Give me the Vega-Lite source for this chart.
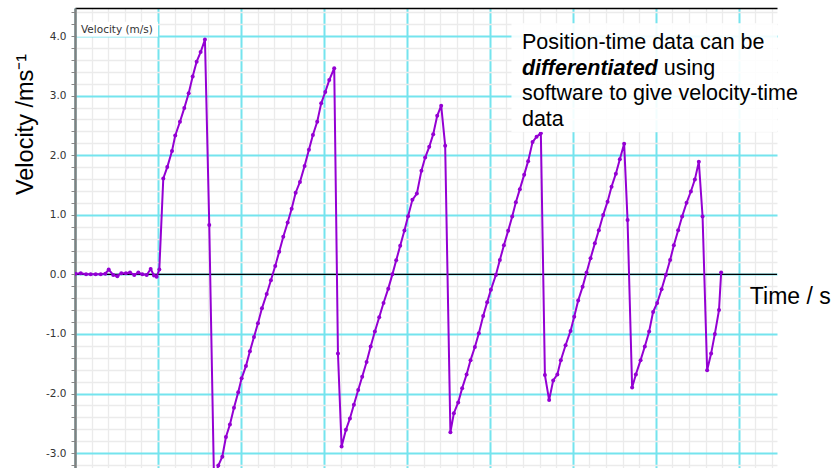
{
  "$schema": "https://vega.github.io/schema/vega-lite/v6.json",
  "width": 702,
  "height": 460,
  "autosize": {"type": "none"},
  "padding": {"left": 75, "top": 8, "right": 62, "bottom": 0},
  "background": "white",
  "config": {"view": {"stroke": null}, "font": "Liberation Sans"},
  "layer": [
    {
      "data": {"values": [{"a": 1}]},
      "mark": {"type": "rect", "fill": "white", "opacity": 1},
      "encoding": {
        "x": {"datum": 0.024, "type": "quantitative"},
        "x2": {"datum": 1.0},
        "y": {"datum": 4.238, "type": "quantitative"},
        "y2": {"datum": 3.987}
      }
    },
    {
      "data": {"values": [{"a": 1}]},
      "mark": {"type": "rule", "color": "black", "strokeWidth": 1.3},
      "encoding": {"x": {"datum": 0, "type": "quantitative"}, "x2": {"datum": 8.46}, "y": {"datum": 0, "type": "quantitative"}}
    },
    {
      "data": {"values": [
        {"t":0.004,"v":0.01},{"t":0.069,"v":0.02},{"t":0.133,"v":0.0},{"t":0.189,"v":0.0},{"t":0.249,"v":0.0},{"t":0.310,"v":0.0},{"t":0.365,"v":0.01},{"t":0.406,"v":0.08},{"t":0.461,"v":-0.01},{"t":0.510,"v":-0.03},{"t":0.558,"v":0.02},{"t":0.614,"v":0.02},{"t":0.663,"v":0.03},{"t":0.714,"v":-0.01},{"t":0.763,"v":0.03},{"t":0.811,"v":0.0},{"t":0.864,"v":-0.01},{"t":0.912,"v":0.09},{"t":0.952,"v":-0.02},{"t":0.984,"v":-0.04},{"t":1.016,"v":0.08},
        {"t":1.064,"v":1.61},{"t":1.112,"v":1.80},{"t":1.169,"v":2.07},{"t":1.208,"v":2.33},{"t":1.265,"v":2.56},{"t":1.317,"v":2.79},{"t":1.370,"v":3.04},{"t":1.418,"v":3.32},{"t":1.466,"v":3.57},{"t":1.514,"v":3.73},{"t":1.566,"v":3.94},
        {"t":1.618,"v":0.83},{"t":1.675,"v":-3.45},
        {"t":1.727,"v":-3.21},{"t":1.775,"v":-3.06},{"t":1.819,"v":-2.73},{"t":1.867,"v":-2.52},{"t":1.916,"v":-2.24},{"t":1.967,"v":-1.98},{"t":2.008,"v":-1.745},{"t":2.060,"v":-1.54},{"t":2.108,"v":-1.29},{"t":2.157,"v":-1.05},{"t":2.205,"v":-0.82},{"t":2.253,"v":-0.57},{"t":2.310,"v":-0.33},{"t":2.361,"v":-0.10},{"t":2.413,"v":0.14},{"t":2.461,"v":0.38},{"t":2.510,"v":0.63},{"t":2.563,"v":0.87},{"t":2.611,"v":1.10},{"t":2.659,"v":1.37},{"t":2.711,"v":1.55},{"t":2.767,"v":1.82},{"t":2.819,"v":2.09},{"t":2.867,"v":2.34},{"t":2.919,"v":2.56},{"t":2.967,"v":2.87},{"t":3.016,"v":3.06},{"t":3.064,"v":3.26},{"t":3.124,"v":3.46},
        {"t":3.169,"v":-1.33},{"t":3.213,"v":-2.89},
        {"t":3.265,"v":-2.61},{"t":3.313,"v":-2.42},{"t":3.361,"v":-2.19},{"t":3.413,"v":-1.94},{"t":3.461,"v":-1.72},{"t":3.514,"v":-1.47},{"t":3.563,"v":-1.21},{"t":3.614,"v":-0.96},{"t":3.666,"v":-0.72},{"t":3.718,"v":-0.48},{"t":3.775,"v":-0.24},{"t":3.825,"v":0.0},{"t":3.871,"v":0.235},{"t":3.919,"v":0.48},{"t":3.970,"v":0.735},{"t":4.014,"v":0.975},{"t":4.066,"v":1.25},{"t":4.120,"v":1.355},{"t":4.175,"v":1.74},{"t":4.220,"v":1.96},{"t":4.269,"v":2.14},{"t":4.317,"v":2.35},{"t":4.365,"v":2.66},{"t":4.413,"v":2.83},{"t":4.461,"v":2.16},
        {"t":4.524,"v":-2.65},
        {"t":4.566,"v":-2.33},{"t":4.618,"v":-2.15},{"t":4.666,"v":-1.91},{"t":4.719,"v":-1.68},{"t":4.767,"v":-1.44},{"t":4.819,"v":-1.22},{"t":4.867,"v":-0.99},{"t":4.919,"v":-0.70},{"t":4.967,"v":-0.47},{"t":5.012,"v":-0.26},{"t":5.072,"v":-0.01},{"t":5.120,"v":0.24},{"t":5.169,"v":0.49},{"t":5.220,"v":0.73},{"t":5.269,"v":0.97},{"t":5.313,"v":1.21},{"t":5.361,"v":1.43},{"t":5.413,"v":1.67},{"t":5.461,"v":1.90},{"t":5.514,"v":2.22},{"t":5.563,"v":2.31},{"t":5.614,"v":2.37},
        {"t":5.663,"v":-1.69},{"t":5.714,"v":-2.11},
        {"t":5.763,"v":-1.78},{"t":5.813,"v":-1.68},{"t":5.855,"v":-1.44},{"t":5.912,"v":-1.19},{"t":5.972,"v":-0.95},{"t":6.016,"v":-0.71},{"t":6.064,"v":-0.44},{"t":6.117,"v":-0.21},{"t":6.165,"v":0.03},{"t":6.213,"v":0.27},{"t":6.265,"v":0.52},{"t":6.313,"v":0.74},{"t":6.365,"v":0.995},{"t":6.418,"v":1.22},{"t":6.466,"v":1.47},{"t":6.518,"v":1.69},{"t":6.566,"v":1.93},{"t":6.618,"v":2.19},
        {"t":6.659,"v":0.91},{"t":6.714,"v":-1.90},
        {"t":6.759,"v":-1.68},{"t":6.816,"v":-1.44},{"t":6.867,"v":-1.21},{"t":6.919,"v":-0.96},{"t":6.967,"v":-0.63},{"t":7.016,"v":-0.48},{"t":7.069,"v":-0.25},{"t":7.120,"v":-0.01},{"t":7.172,"v":0.24},{"t":7.217,"v":0.49},{"t":7.269,"v":0.74},{"t":7.317,"v":0.97},{"t":7.370,"v":1.20},{"t":7.422,"v":1.39},{"t":7.470,"v":1.59},{"t":7.518,"v":1.89},
        {"t":7.563,"v":0.97},{"t":7.618,"v":-1.61},
        {"t":7.666,"v":-1.33},{"t":7.711,"v":-1.0},{"t":7.761,"v":-0.60},{"t":7.787,"v":0.03}
      ]},
      "encoding": {
        "x": {
          "field": "t", "type": "quantitative",
          "scale": {"domain": [0, 8.46], "nice": false, "zero": false},
          "axis": {
            "orient": "top",
            "values": [0,0.2,0.4,0.6,0.8,1,1.2,1.4,1.6,1.8,2,2.2,2.4,2.6,2.8,3,3.2,3.4,3.6,3.8,4,4.2,4.4,4.6,4.8,5,5.2,5.4,5.6,5.8,6,6.2,6.4,6.6,6.8,7,7.2,7.4,7.6,7.8,8,8.2,8.4],
            "tickCount": 200,
            "labels": false, "ticks": false, "title": null,
            "domain": true, "domainColor": "black", "domainWidth": 1.5,
            "grid": true,
            "gridColor": {"condition": {"test": "abs(datum.value - round(datum.value)) < 0.01", "value": "#74e4ee"}, "value": "#ebebeb"},
            "gridWidth": {"condition": {"test": "abs(datum.value - round(datum.value)) < 0.01", "value": 2}, "value": 1.3},
            "gridOpacity": 1
          }
        },
        "y": {
          "field": "v", "type": "quantitative",
          "scale": {"domain": [-3.25, 4.47], "nice": false, "zero": false},
          "axis": {
            "orient": "left",
            "values": [-3.2,-3,-2.8,-2.6,-2.4,-2.2,-2,-1.8,-1.6,-1.4,-1.2,-1,-0.8,-0.6,-0.4,-0.2,0,0.2,0.4,0.6,0.8,1,1.2,1.4,1.6,1.8,2,2.2,2.4,2.6,2.8,3,3.2,3.4,3.6,3.8,4,4.2,4.4],
            "tickCount": 200,
            "labelExpr": "abs(datum.value - round(datum.value)) < 0.01 ? (datum.value < -0.01 ? '-' : '') + format(abs(datum.value), '.1f') : ''",
            "labelOverlap": false, "labelFlush": false, "labelBound": false,
            "labelFont": "DejaVu Sans", "labelFontSize": 10.5, "labelColor": "#333333", "labelPadding": 5,
            "ticks": true, "tickColor": "#888888", "tickSize": 4, "tickWidth": 1,
            "domain": true, "domainColor": "#808080", "domainWidth": 2.5,
            "grid": true,
            "gridColor": {"condition": {"test": "abs(datum.value - round(datum.value)) < 0.01", "value": "#74e4ee"}, "value": "#ebebeb"},
            "gridWidth": {"condition": {"test": "abs(datum.value - round(datum.value)) < 0.01", "value": 2}, "value": 1.3},
            "gridOpacity": 1,
            "title": "Velocity /ms⁻¹",
            "titleFont": "Liberation Sans", "titleFontSize": 23.5, "titleFontWeight": "normal", "titleColor": "black",
            "titleAngle": -90, "titleX": -43, "titleY": 116, "titleAlign": "center", "titleBaseline": "alphabetic"
          }
        }
      },
      "layer": [
        {"mark": {"type": "line", "color": "#9400d3", "strokeWidth": 2, "clip": true}},
        {"mark": {"type": "point", "filled": true, "color": "#9400d3", "size": 16, "opacity": 1, "clip": true}}
      ]
    },
    {
      "data": {"values": [{"a": 1}]},
      "mark": {"type": "rect", "fill": "white", "opacity": 0.9},
      "encoding": {
        "x": {"datum": 5.26, "type": "quantitative"},
        "x2": {"datum": 8.46},
        "y": {"datum": 4.216, "type": "quantitative"},
        "y2": {"datum": 2.388}
      }
    },
    {
      "data": {"values": [{"label": "Velocity (m/s)"}]},
      "mark": {"type": "text", "font": "DejaVu Sans", "fontSize": 10.5, "color": "#333333", "align": "left", "baseline": "alphabetic"},
      "encoding": {"x": {"datum": 0.072, "type": "quantitative"}, "y": {"datum": 4.054, "type": "quantitative"}, "text": {"field": "label"}}
    },
    {
      "data": {"values": [{"label": "Position-time data can be"}]},
      "mark": {"type": "text", "fontSize": 21.5, "color": "black", "align": "left", "baseline": "alphabetic"},
      "encoding": {"x": {"datum": 5.386, "type": "quantitative"}, "y": {"datum": 3.78, "type": "quantitative"}, "text": {"field": "label"}}
    },
    {
      "data": {"values": [{"label": "differentiated"}]},
      "mark": {"type": "text", "fontSize": 21.5, "fontWeight": "bold", "fontStyle": "italic", "color": "black", "align": "left", "baseline": "alphabetic"},
      "encoding": {"x": {"datum": 5.386, "type": "quantitative"}, "y": {"datum": 3.352, "type": "quantitative"}, "text": {"field": "label"}}
    },
    {
      "data": {"values": [{"label": "using"}]},
      "mark": {"type": "text", "fontSize": 21.5, "color": "black", "align": "left", "baseline": "alphabetic"},
      "encoding": {"x": {"datum": 7.096, "type": "quantitative"}, "y": {"datum": 3.352, "type": "quantitative"}, "text": {"field": "label"}}
    },
    {
      "data": {"values": [{"label": "software to give velocity-time"}]},
      "mark": {"type": "text", "fontSize": 21.5, "color": "black", "align": "left", "baseline": "alphabetic"},
      "encoding": {"x": {"datum": 5.386, "type": "quantitative"}, "y": {"datum": 2.924, "type": "quantitative"}, "text": {"field": "label"}}
    },
    {
      "data": {"values": [{"label": "data"}]},
      "mark": {"type": "text", "fontSize": 21.5, "color": "black", "align": "left", "baseline": "alphabetic"},
      "encoding": {"x": {"datum": 5.386, "type": "quantitative"}, "y": {"datum": 2.497, "type": "quantitative"}, "text": {"field": "label"}}
    },
    {
      "data": {"values": [{"label": "Time / s"}]},
      "mark": {"type": "text", "fontSize": 23, "color": "black", "align": "left", "baseline": "alphabetic"},
      "encoding": {"x": {"datum": 8.133, "type": "quantitative"}, "y": {"datum": -0.503, "type": "quantitative"}, "text": {"field": "label"}}
    }
  ]
}
